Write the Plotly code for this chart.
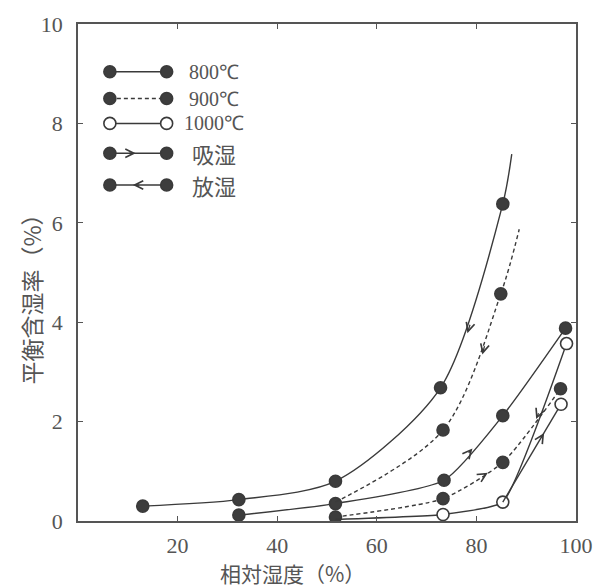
import plotly.graph_objects as go

# ---- data ----
# 800 C, desorption (upper solid curve); last point is the curve end (no marker)
x800_des = [13.0, 32.3, 51.7, 72.8, 85.3, 87.1]
y800_des = [0.30, 0.43, 0.80, 2.68, 6.38, 7.38]
m800_des = [True, True, True, True, True, False]
# 800 C, absorption (lower solid curve)
x800_abs = [32.3, 51.7, 73.5, 85.3, 97.9]
y800_abs = [0.12, 0.35, 0.82, 2.12, 3.88]
# 900 C, desorption (upper dashed curve)
x900_des = [51.7, 73.3, 84.9, 88.6]
y900_des = [0.38, 1.83, 4.57, 5.87]
m900_des = [False, True, True, False]
# 900 C, absorption (lower dashed curve)
x900_abs = [51.7, 73.3, 85.3, 96.9]
y900_abs = [0.08, 0.45, 1.18, 2.66]
# 1000 C (open circles)
x1000_a = [51.7, 73.3, 85.3, 98.1]
y1000_a = [0.03, 0.13, 0.38, 3.57]
m1000_a = [False, True, True, True]
x1000_b = [85.3, 97.0]
y1000_b = [0.38, 2.35]

# arrows: (tip_x, tip_y, tail_x, tail_y)
arrows = [
    (78.2, 3.78, 78.8, 3.98),   # 800 desorption, down
    (81.2, 3.35, 81.7, 3.55),   # 900 desorption, down
    (79.2, 1.46, 78.2, 1.34),   # 800 absorption, up
    (82.3, 0.97, 81.3, 0.91),   # 900 absorption, up
    (92.0, 2.05, 92.6, 2.20),   # 1000 desorption, down
    (93.6, 1.77, 92.8, 1.64),   # 1000 absorption, up
]

x_ticks = [20, 40, 60, 80, 100]
y_ticks = [0, 2, 4, 6, 8, 10]

legend_labels = ["800℃", "900℃", "1000℃", "吸湿", "放湿"]
legend_y = [9.04, 8.50, 8.00, 7.40, 6.76]
legend_x = [6.4, 17.8]

LC = "#3a3a3a"
MF = "#3d3d3d"
AX = "#555555"
TXT = "#555555"

fig = go.Figure()

def add_curve(xs, ys, dash, smoothing, marker_mask=None, open_marker=False):
    fig.add_trace(go.Scatter(x=xs, y=ys, mode="lines",
                             line=dict(color=LC, width=1.4, dash=dash,
                                       shape="spline", smoothing=smoothing),
                             hoverinfo="skip", showlegend=False))
    if marker_mask is None:
        marker_mask = [True] * len(xs)
    mx = [x for x, m in zip(xs, marker_mask) if m]
    my = [y for y, m in zip(ys, marker_mask) if m]
    fig.add_trace(go.Scatter(x=mx, y=my, mode="markers",
                             marker=dict(size=12,
                                         color="white" if open_marker else MF,
                                         line=dict(color=LC, width=1.6)),
                             hoverinfo="skip", showlegend=False))

add_curve(x800_des, y800_des, "solid", 0.8, m800_des)
add_curve(x800_abs, y800_abs, "solid", 0.6)
add_curve(x900_des, y900_des, "4px,3px", 0.9, m900_des)
add_curve(x900_abs, y900_abs, "4px,3px", 0.6)
add_curve(x1000_a, y1000_a, "solid", 0.4, m1000_a, open_marker=True)
add_curve(x1000_b, y1000_b, "solid", 0.0, [False, True], open_marker=True)

# arrows on curves
for tx, ty, sx, sy in arrows:
    fig.add_annotation(x=tx, y=ty, ax=sx, ay=sy, xref="x", yref="y",
                       axref="x", ayref="y", text="", showarrow=True,
                       arrowhead=5, arrowsize=1.3, arrowwidth=1.3,
                       arrowcolor=LC)

# custom legend
styles = [("solid", False), ("4px,3px", False), ("solid", True),
          ("solid", False), ("solid", False)]
for i, (lab, ly) in enumerate(zip(legend_labels, legend_y)):
    dash, op = styles[i]
    fig.add_trace(go.Scatter(x=legend_x, y=[ly, ly], mode="lines+markers",
                             line=dict(color=LC, width=1.5, dash=dash),
                             marker=dict(size=12, color="white" if op else MF,
                                         line=dict(color=LC, width=1.6)),
                             hoverinfo="skip", showlegend=False))
    is_cjk = i >= 3
    fig.add_annotation(x=27.4, y=ly, xref="x", yref="y", text=lab,
                       showarrow=False, xanchor="center", yanchor="middle",
                       font=dict(family="Noto Sans CJK JP" if is_cjk else "Liberation Serif",
                                 size=22 if is_cjk else 20, color=TXT))
# legend arrows
fig.add_annotation(x=11.6, y=legend_y[3], ax=10.0, ay=legend_y[3], xref="x", yref="y",
                   axref="x", ayref="y", text="", showarrow=True, arrowhead=5,
                   arrowsize=1.3, arrowwidth=1.3, arrowcolor=LC)
fig.add_annotation(x=11.0, y=legend_y[4], ax=12.6, ay=legend_y[4], xref="x", yref="y",
                   axref="x", ayref="y", text="", showarrow=True, arrowhead=5,
                   arrowsize=1.3, arrowwidth=1.3, arrowcolor=LC)

# axis titles
fig.add_annotation(x=-0.094, y=0.458, xref="paper", yref="paper",
                   xanchor="center", yanchor="middle",
                   text="平衡含湿率（%）", textangle=-90, showarrow=False,
                   font=dict(family="Noto Sans CJK JP", size=23, color=TXT))
fig.add_annotation(x=0.43, y=-0.104, xref="paper", yref="paper",
                   xanchor="center", yanchor="middle",
                   text="相対湿度（%）", showarrow=False,
                   font=dict(family="Noto Sans CJK JP", size=21, color=TXT))

axis_common = dict(showline=True, linecolor=AX, linewidth=1.5, mirror="ticks",
                   ticks="inside", ticklen=5, tickwidth=1.2, tickcolor=AX,
                   showgrid=False, zeroline=False,
                   tickfont=dict(family="Liberation Serif", size=22, color=TXT))
fig.update_xaxes(range=[0, 100], tickvals=x_ticks, ticklabelstandoff=4, **axis_common)
fig.update_yaxes(range=[0, 10], tickvals=y_ticks, ticklabelstandoff=9, **axis_common)

fig.update_layout(width=605, height=587, margin=dict(l=78, r=27, t=21, b=66),
                  paper_bgcolor="white", plot_bgcolor="white")

fig.write_html("out.html")
